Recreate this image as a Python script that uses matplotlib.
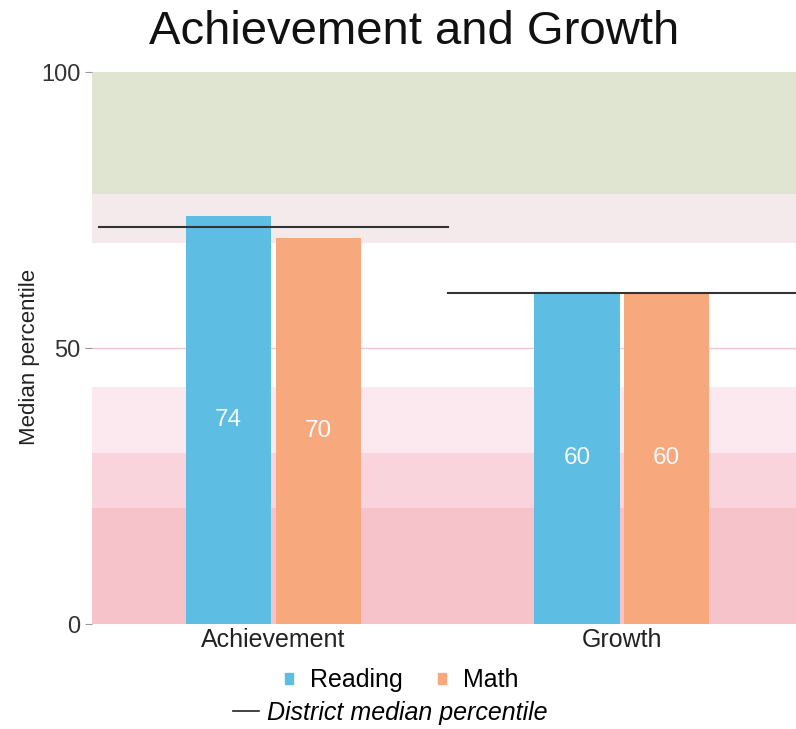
import numpy as np
import matplotlib.pyplot as plt
from matplotlib.lines import Line2D
from matplotlib.patches import Patch

plt.rcParams["font.family"] = ["Liberation Sans", "DejaVu Sans"]

categories = ["Achievement", "Growth"]
reading = [74, 60]
math = [70, 60]
district = [72, 60]

band_edges = [0, 21, 31, 43, 69, 78, 100]
band_colors = ["#f7c3cb", "#f9d4dc", "#fbe9ef", "#ffffff", "#f4eaeb", "#dfe5d1"]

blue = "#5dbde3"
orange = "#f7a87c"

fig = plt.figure(figsize=(7.96, 7.29), dpi=100)
ax = fig.add_axes([0.116, 0.144, 0.884, 0.757])

for lo, hi, c in zip(band_edges[:-1], band_edges[1:], band_colors):
    ax.axhspan(lo, hi, color=c, zorder=0, lw=0)
ax.axhline(50, color="#f0c6d0", lw=1, zorder=1)

x = np.arange(len(categories))
w = 0.245
gap = 0.006
b1 = ax.bar(x - w / 2 - gap, reading, w, color=blue, zorder=2)
b2 = ax.bar(x + w / 2 + gap, math, w, color=orange, zorder=2)

for bars, vals in [(b1, reading), (b2, math)]:
    for b, v in zip(bars, vals):
        ax.text(b.get_x() + b.get_width() / 2, v / 2, str(v), ha="center",
                va="center", color="#f4fafd", fontsize=17.5, zorder=3)

for xi, d in zip(x, district):
    ax.plot([xi - 0.5, xi + 0.5], [d, d], color="#333333", lw=1.5, zorder=4)

ax.set_xlim(-0.52, 1.5)
ax.set_ylim(0, 100)
ax.set_yticks([0, 50, 100])
ax.set_xticks(x)
ax.set_xticklabels(categories)
ax.tick_params(axis="y", labelsize=17, length=5, color="#999999", labelcolor="#333333")
ax.tick_params(axis="x", labelsize=18, length=0, pad=3, labelcolor="#222222")
for s in ax.spines.values():
    s.set_visible(False)
ax.set_ylabel("Median percentile", fontsize=16, color="#222222")
ax.yaxis.set_label_coords(-0.074, 0.484)

fig.text(0.52, 0.956, "Achievement and Growth", ha="center", va="center",
         fontsize=34, color="#111111")

h1 = [Patch(color=blue), Patch(color=orange)]
leg1 = fig.legend(h1, ["Reading", "Math"], loc="center", bbox_to_anchor=(0.505, 0.067),
                  ncol=2, frameon=False, fontsize=18, handlelength=0.3,
                  handleheight=0.3, columnspacing=1.4, handletextpad=0.7)
h2 = [Line2D([0], [0], color="#222222", lw=1.2)]
leg2 = fig.legend(h2, ["District median percentile"], loc="center",
                  bbox_to_anchor=(0.49, 0.022), frameon=False,
                  handlelength=1.05, handletextpad=0.3, prop={"style": "italic", "size": 18})

fig.savefig("out.png", dpi=100)
